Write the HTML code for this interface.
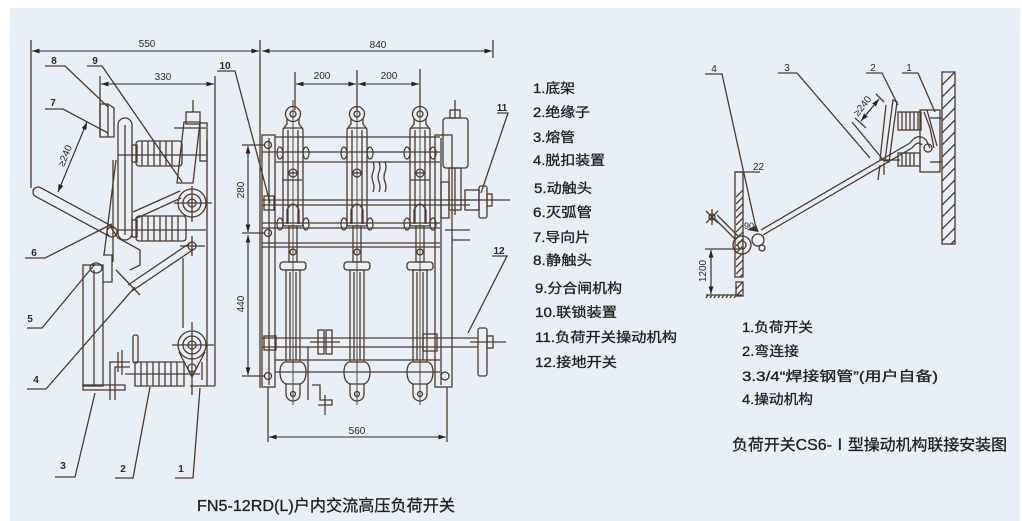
<!DOCTYPE html>
<html><head><meta charset="utf-8">
<style>html,body{margin:0;padding:0;background:#fff}svg{display:block}</style>
</head><body>
<svg width="1022" height="521" viewBox="0 0 1022 521" xmlns="http://www.w3.org/2000/svg">
<defs>
<marker id="a" viewBox="0 0 10 10" refX="10" refY="5" markerWidth="7" markerHeight="7" orient="auto-start-reverse"><path d="M0,1.8 L10,5 L0,8.2z" fill="#222" stroke="none"/></marker>
<clipPath id="cw"><rect x="942" y="72" width="13" height="172"/></clipPath>
<clipPath id="cp"><rect x="736" y="190" width="7" height="87"/></clipPath>
<clipPath id="cp2"><rect x="736" y="282" width="7" height="14"/></clipPath>
<g id="pole" fill="none" stroke="#4e3a2c" stroke-width="1.3">
  <line x1="0" y1="100" x2="0" y2="405" stroke-width="0.9"/>
  <circle cx="0" cy="114" r="7.5"/>
  <circle cx="0" cy="114" r="3"/>
  <path d="M-6,119 L-6,124 L-10,129 M6,119 L6,124 L10,129"/>
  <rect x="-10" y="128" width="20" height="98" rx="2"/>
  <line x1="-5" y1="130" x2="-5" y2="224"/>
  <line x1="5" y1="130" x2="5" y2="224"/>
  <ellipse cx="-13" cy="153" rx="3" ry="6"/>
  <ellipse cx="13" cy="153" rx="3" ry="6"/>
  <circle cx="0" cy="173" r="4"/>
  <line x1="-5" y1="173" x2="5" y2="173"/>
  <path d="M-6,224 L-6,210 Q0,198 6,210 L6,224"/>
  <ellipse cx="-13" cy="224" rx="3" ry="6"/>
  <ellipse cx="13" cy="224" rx="3" ry="6"/>
  <rect x="-4" y="226" width="8" height="36"/>
  <circle cx="0" cy="252" r="3"/>
  <rect x="-13" y="262" width="26" height="8" rx="3"/>
  <rect x="-7" y="270" width="14" height="92"/>
  <line x1="-3" y1="272" x2="-3" y2="360"/>
  <line x1="3" y1="272" x2="3" y2="360"/>
  <path d="M-8,362 Q-13,364 -13,372 Q-13,382 -7,384 L7,384 Q13,382 13,372 Q13,364 8,362"/>
  <path d="M-7,384 L-7,394 A7,7 0 0 0 7,394 L7,384"/>
  <circle cx="0" cy="394" r="2.5"/>
</g>
</defs>

<rect x="0" y="0" width="1022" height="521" fill="#fff"/>
<rect x="10" y="8" width="1010" height="513" fill="#e8eff6"/>

<!-- ============ LEFT SIDE VIEW ============ -->
<g fill="none" stroke="#4e3a2c" stroke-width="1.3">
  <line x1="31" y1="40" x2="31" y2="188"/>
  <line x1="260" y1="40" x2="260" y2="388"/>
  <line x1="493" y1="40" x2="493" y2="58"/>
  <line x1="100" y1="76" x2="100" y2="137"/>
  <line x1="215" y1="76" x2="215" y2="386"/>
  <line x1="295" y1="72" x2="295" y2="110"/>
  <line x1="357" y1="70" x2="357" y2="110"/>
  <line x1="420" y1="69" x2="420" y2="110"/>
  <g stroke="#2a2a2a" stroke-width="1.1">
    <line x1="32" y1="51" x2="259" y2="51" marker-start="url(#a)" marker-end="url(#a)"/>
    <line x1="262" y1="51" x2="492" y2="51" marker-start="url(#a)" marker-end="url(#a)"/>
    <line x1="101" y1="84" x2="214" y2="84" marker-start="url(#a)" marker-end="url(#a)"/>
    <line x1="296" y1="84" x2="356" y2="84" marker-start="url(#a)" marker-end="url(#a)"/>
    <line x1="358" y1="84" x2="419" y2="84" marker-start="url(#a)" marker-end="url(#a)"/>
    <line x1="248" y1="146" x2="248" y2="232" marker-start="url(#a)" marker-end="url(#a)"/>
    <line x1="248" y1="235" x2="248" y2="375" marker-start="url(#a)" marker-end="url(#a)"/>
    <line x1="269" y1="437" x2="446" y2="437" marker-start="url(#a)" marker-end="url(#a)"/>
    <line x1="87" y1="122" x2="58" y2="192" marker-start="url(#a)" marker-end="url(#a)"/>
  </g>
  <path d="M45,66 L65,66 L108,107"/>
  <path d="M87,66 L102,66 L182,182"/>
  <path d="M217,71 L235,71 L270,203"/>
  <path d="M45,109 L63,109 L108,133"/>
  <path d="M25,258 L45,258 L112,224"/>
  <path d="M27,328 L42,328 L95,264"/>
  <path d="M27,389 L46,389 L135,287"/>
  <path d="M55,477 L75,477 L95,393"/>
  <path d="M115,478 L133,478 L150,387"/>
  <path d="M175,478 L193,478 L200,388"/>
  <path d="M497,113 L508,113 L481,193"/>
  <path d="M492,256 L507,256 L468,333"/>

  <path d="M100,104 L100,137 L114,137 L114,108 L108,104 Z"/>
  <line x1="108" y1="104" x2="108" y2="137"/>
  <rect x="118" y="118" width="14" height="122" rx="7"/>
  <line x1="125" y1="125" x2="125" y2="235"/>
  <line x1="113" y1="160" x2="113" y2="262"/>
  <line x1="116" y1="160" x2="104" y2="255"/>
  <rect x="136" y="141" width="46" height="25" rx="3"/>
  <path d="M142,141 V166 M148,141 V166 M154,141 V166 M160,141 V166 M166,141 V166 M172,141 V166"/>
  <rect x="132" y="145" width="5" height="17"/>
  <line x1="118" y1="155" x2="206" y2="155"/>
  <rect x="136" y="216" width="50" height="25" rx="3"/>
  <path d="M142,216 V241 M148,216 V241 M154,216 V241 M160,216 V241 M166,216 V241 M172,216 V241 M178,216 V241"/>
  <rect x="132" y="220" width="5" height="17"/>
  <line x1="118" y1="230" x2="206" y2="230"/>
  <path d="M184,122 L200,122 L193,183 L177,183 Z"/>
  <rect x="186" y="112" width="14" height="12"/>
  <line x1="193" y1="100" x2="193" y2="112"/>
  <rect x="200" y="123" width="7" height="38"/>
  <line x1="174" y1="128" x2="206" y2="128"/>
  <circle cx="192" cy="203" r="14"/>
  <circle cx="192" cy="203" r="9"/>
  <circle cx="192" cy="203" r="4"/>
  <line x1="174" y1="203" x2="212" y2="203"/>
  <line x1="192" y1="186" x2="192" y2="222"/>
  <line x1="133" y1="212" x2="180" y2="191"/>
  <line x1="135" y1="219" x2="181" y2="198"/>
  <circle cx="192" cy="246" r="4"/>
  <line x1="180" y1="246" x2="205" y2="246"/>
  <line x1="192" y1="236" x2="192" y2="256"/>
  <line x1="128" y1="285" x2="190" y2="243"/>
  <line x1="132" y1="291" x2="194" y2="249"/>
  <line x1="116" y1="270" x2="140" y2="295"/>
  <path d="M114.4,227.6 L40.4,187.6 A5,5 0 0 0 35.6,196.4 L109.6,236.4"/>
  <circle cx="112" cy="232" r="5"/>
  <path d="M110,226 L118,238 L140,250 L140,265 L130,270"/>
  <rect x="83" y="265" width="20" height="121"/>
  <line x1="94" y1="270" x2="94" y2="386"/>
  <rect x="83" y="385" width="42" height="5"/>
  <ellipse cx="96" cy="268" rx="6" ry="5"/>
  <path d="M103,255 L112,255 L112,282 L103,282"/>
  <path d="M110,400 L110,362 L130,362"/>
  <path d="M115,400 L115,367 L130,367"/>
  <line x1="122" y1="350" x2="122" y2="375"/>
  <line x1="118" y1="352" x2="118" y2="372"/>
  <rect x="133" y="335" width="5" height="28" rx="2"/>
  <path d="M135,362 H184 V386 H135 Z"/>
  <path d="M141,362 V386 M147,362 V386 M153,362 V386 M159,362 V386 M165,362 V386 M171,362 V386 M177,362 V386"/>
  <line x1="125" y1="374" x2="200" y2="374"/>
  <circle cx="192" cy="345" r="14"/>
  <circle cx="192" cy="345" r="9"/>
  <circle cx="192" cy="345" r="4"/>
  <path d="M179,352 L192,377 L205,352"/>
  <circle cx="192" cy="368" r="4"/>
  <line x1="172" y1="345" x2="214" y2="345"/>
  <line x1="192" y1="322" x2="192" y2="395"/>
  <line x1="183" y1="258" x2="183" y2="328"/>
  <line x1="207" y1="140" x2="207" y2="386"/>
  <line x1="190" y1="386" x2="215" y2="386"/>
  <line x1="202" y1="362" x2="202" y2="380"/>
</g>

<!-- ============ FRONT VIEW ============ -->
<g fill="none" stroke="#4e3a2c" stroke-width="1.3">
  <rect x="262" y="135" width="13" height="252"/>
  <line x1="269" y1="138" x2="269" y2="385"/>
  <rect x="435" y="135" width="17" height="252"/>
  <line x1="441" y1="138" x2="441" y2="385"/>
  <line x1="242" y1="145" x2="265" y2="145"/>
  <line x1="242" y1="233" x2="265" y2="233"/>
  <line x1="242" y1="376" x2="265" y2="376"/>
  <line x1="268" y1="387" x2="268" y2="442"/>
  <line x1="447" y1="387" x2="447" y2="442"/>
  <circle cx="268" cy="145" r="3.5"/>
  <circle cx="268" cy="233" r="3.5"/>
  <circle cx="268" cy="376" r="3.5"/>
  <circle cx="445" cy="376" r="4"/>
  <line x1="275" y1="137" x2="440" y2="137"/>
  <line x1="262" y1="152" x2="440" y2="152"/>
  <line x1="275" y1="162" x2="440" y2="162"/>
  <line x1="262" y1="200" x2="470" y2="200"/>
  <line x1="262" y1="205" x2="470" y2="205"/>
  <line x1="262" y1="223" x2="440" y2="223"/>
  <line x1="262" y1="228" x2="440" y2="228"/>
  <line x1="262" y1="243" x2="440" y2="243"/>
  <line x1="262" y1="247" x2="440" y2="247"/>
  <line x1="262" y1="338" x2="478" y2="338"/>
  <line x1="262" y1="347" x2="478" y2="347"/>
  <line x1="275" y1="360" x2="440" y2="360"/>
  <line x1="275" y1="372" x2="440" y2="372"/>
  <rect x="264" y="196" width="10" height="14"/>
  <rect x="264" y="336" width="12" height="14"/>
  <path d="M373,162 q2,5 0,10 q-2,5 0,10 q2,5 0,10 M379,162 q2,5 0,10 q-2,5 0,10 q2,5 0,10 M385,162 q2,5 0,10 q-2,5 0,10 q2,5 0,10"/>
  <rect x="318" y="330" width="6" height="24"/>
  <rect x="326" y="330" width="6" height="24"/>
  <line x1="310" y1="342" x2="340" y2="342"/>
  <path d="M312,385 L320,385 L320,400 L332,400 L332,405 L318,405"/>
  <line x1="325" y1="395" x2="325" y2="415"/>
  <line x1="308" y1="347" x2="308" y2="400"/>
  <rect x="443" y="118" width="25" height="50" rx="3"/>
  <line x1="455" y1="100" x2="455" y2="118"/>
  <rect x="450" y="110" width="10" height="8"/>
  <rect x="449" y="168" width="12" height="42"/>
  <line x1="455" y1="168" x2="455" y2="215"/>
  <rect x="441" y="182" width="8" height="36"/>
  <rect x="465" y="190" width="14" height="20"/>
  <rect x="479" y="186" width="8" height="32" rx="2"/>
  <rect x="487" y="194" width="5" height="12"/>
  <line x1="455" y1="200" x2="510" y2="200"/>
  <line x1="445" y1="230" x2="470" y2="230"/>
  <line x1="452" y1="240" x2="470" y2="240"/>
  <rect x="478" y="328" width="9" height="48" rx="2"/>
  <rect x="487" y="336" width="6" height="12"/>
  <line x1="470" y1="342" x2="506" y2="342"/>
  <rect x="423" y="334" width="14" height="17"/>
  <line x1="282" y1="180" x2="302" y2="180"/>
  <line x1="410" y1="180" x2="430" y2="180"/>
</g>
<use href="#pole" x="293"/>
<use href="#pole" x="357"/>
<use href="#pole" x="420"/>

<!-- ============ RIGHT DIAGRAM ============ -->
<g fill="none" stroke="#4e3a2c" stroke-width="1.3">
  <rect x="942" y="72" width="13" height="172"/>
  <g clip-path="url(#cw)">
    <path d="M942,85 L955,72 M942,97 L955,84 M942,109 L955,96 M942,121 L955,108 M942,133 L955,120 M942,145 L955,132 M942,157 L955,144 M942,169 L955,156 M942,181 L955,168 M942,193 L955,180 M942,205 L955,192 M942,217 L955,204 M942,229 L955,216 M942,241 L955,228 M942,253 L955,240"/>
  </g>
  <rect x="920" y="110" width="20" height="62"/>
  <line x1="930" y1="118" x2="942" y2="118"/>
  <line x1="930" y1="162" x2="942" y2="162"/>
  <rect x="898" y="112" width="23" height="18"/>
  <path d="M902,112 V130 M906,112 V130 M910,112 V130 M914,112 V130 M918,112 V130"/>
  <rect x="898" y="153" width="22" height="13"/>
  <path d="M902,153 V166 M906,153 V166 M910,153 V166 M914,153 V166"/>
  <path d="M893,100 L897,102 L889,162 L885,160 Z"/>
  <path d="M924,112 L930,128 L934,148"/>
  <path d="M927,110 L932,128 L937,146"/>
  <circle cx="928" cy="148" r="4"/>
  <path d="M880,165 L878,180 M884,163 L884,175"/>
  <path d="M886,105 L880,160 L900,160"/>
  <line x1="761" y1="230" x2="910" y2="143"/>
  <line x1="763" y1="235" x2="912" y2="148"/>
  <path d="M910,143 Q918,132 926,140 L930,148"/>
  <path d="M912,148 Q918,140 922,145"/>
  <line x1="852" y1="122" x2="885" y2="162"/>
  <line x1="876" y1="94" x2="884" y2="102"/>
  <line x1="855" y1="118" x2="866" y2="128"/>
  <line x1="861" y1="121" x2="879" y2="99" stroke="#222" stroke-width="1.1" marker-start="url(#a)" marker-end="url(#a)"/>
  <rect x="735" y="172" width="8" height="105"/>
  <g clip-path="url(#cp)">
    <path d="M736,197 L743,190 M736,204 L743,197 M736,211 L743,204 M736,218 L743,211 M736,225 L743,218 M736,232 L743,225 M736,239 L743,232 M736,246 L743,239 M736,253 L743,246 M736,260 L743,253 M736,267 L743,260 M736,274 L743,267 M736,281 L743,274"/>
  </g>
  <rect x="736" y="282" width="7" height="14"/>
  <g clip-path="url(#cp2)">
    <path d="M736,289 L743,282 M736,296 L743,289 M736,303 L743,296"/>
  </g>
  <line x1="735" y1="172" x2="760" y2="172"/>
  <line x1="706" y1="295" x2="742" y2="295"/>
  <path d="M708,295 l-2,3 M712,295 l-2,3 M716,295 l-2,3 M720,295 l-2,3 M724,295 l-2,3 M728,295 l-2,3 M732,295 l-2,3 M736,295 l-2,3"/>
  <line x1="705" y1="249" x2="740" y2="249"/>
  <line x1="711" y1="250" x2="711" y2="294" stroke="#222" stroke-width="1.1" marker-start="url(#a)" marker-end="url(#a)"/>
  <circle cx="742" cy="245" r="9"/>
  <circle cx="742" cy="245" r="4"/>
  <circle cx="758" cy="240" r="6"/>
  <circle cx="762" cy="248" r="3"/>
  <line x1="714" y1="218" x2="736" y2="240"/>
  <line x1="717" y1="215" x2="739" y2="237"/>
  <circle cx="712" cy="217" r="3"/>
  <path d="M706,211 L718,223 M706,223 L718,211 M712,209 L712,225"/>
  <path d="M748,230 L756,226 L758,232" fill="#333"/>
  <path d="M705,74 L722,74 L756,228"/>
  <path d="M778,73 L797,73 L870,158"/>
  <path d="M866,73 L882,73 L898,105"/>
  <path d="M902,73 L918,73 L935,112"/>
</g>

<!-- ============ TEXT ============ -->
<g font-family="Liberation Sans, sans-serif" font-size="10" fill="#2a2a2a">
  <text x="147" y="47" text-anchor="middle">550</text>
  <text x="378" y="48" text-anchor="middle">840</text>
  <text x="163" y="80" text-anchor="middle">330</text>
  <text x="322" y="79" text-anchor="middle">200</text>
  <text x="389" y="79" text-anchor="middle">200</text>
  <text x="357" y="434" text-anchor="middle">560</text>
  <text transform="translate(244,190) rotate(-90)" text-anchor="middle">280</text>
  <text transform="translate(244,304) rotate(-90)" text-anchor="middle">440</text>
  <text transform="translate(68,157) rotate(-68)" text-anchor="middle">≥240</text>
  <text x="54" y="64" text-anchor="middle" font-weight="bold">8</text>
  <text x="95" y="64" text-anchor="middle" font-weight="bold">9</text>
  <text x="225" y="69" text-anchor="middle" font-weight="bold">10</text>
  <text x="53" y="106" text-anchor="middle" font-weight="bold">7</text>
  <text x="34" y="256" text-anchor="middle" font-weight="bold">6</text>
  <text x="30" y="322" text-anchor="middle" font-weight="bold">5</text>
  <text x="36" y="383" text-anchor="middle" font-weight="bold">4</text>
  <text x="63" y="469" text-anchor="middle" font-weight="bold">3</text>
  <text x="123" y="472" text-anchor="middle" font-weight="bold">2</text>
  <text x="181" y="472" text-anchor="middle" font-weight="bold">1</text>
  <text x="502" y="111" text-anchor="middle" font-weight="bold">11</text>
  <text x="499" y="254" text-anchor="middle" font-weight="bold">12</text>
  <text x="714" y="72" text-anchor="middle">4</text>
  <text x="787" y="71" text-anchor="middle">3</text>
  <text x="873" y="71" text-anchor="middle">2</text>
  <text x="909" y="71" text-anchor="middle">1</text>
  <text x="753" y="170">22</text>
  <text x="744" y="229" font-size="9">90</text>
  <text transform="translate(706,271) rotate(-90)" text-anchor="middle">1200</text>
  <text transform="translate(865,108) rotate(-52)" text-anchor="middle">≥240</text>
</g>

<g font-family="Liberation Sans, Noto Sans CJK SC, sans-serif" font-size="13.5" fill="#1f1f1f" stroke="#1f1f1f" stroke-width="0.3">
  <text x="533" y="93" textLength="42" lengthAdjust="spacingAndGlyphs">1.底架</text>
  <text x="533" y="117" textLength="57" lengthAdjust="spacingAndGlyphs">2.绝缘子</text>
  <text x="533" y="142" textLength="42" lengthAdjust="spacingAndGlyphs">3.熔管</text>
  <text x="533" y="165" textLength="72" lengthAdjust="spacingAndGlyphs">4.脱扣装置</text>
  <text x="534" y="193" textLength="58" lengthAdjust="spacingAndGlyphs">5.动触头</text>
  <text x="533" y="217" textLength="59" lengthAdjust="spacingAndGlyphs">6.灭弧管</text>
  <text x="533" y="242" textLength="57" lengthAdjust="spacingAndGlyphs">7.导向片</text>
  <text x="533" y="265" textLength="59" lengthAdjust="spacingAndGlyphs">8.静触头</text>
  <text x="535" y="293" textLength="87" lengthAdjust="spacingAndGlyphs">9.分合闸机构</text>
  <text x="535" y="317" textLength="82" lengthAdjust="spacingAndGlyphs">10.联锁装置</text>
  <text x="535" y="342" textLength="142" lengthAdjust="spacingAndGlyphs">11.负荷开关操动机构</text>
  <text x="535" y="367" textLength="82" lengthAdjust="spacingAndGlyphs">12.接地开关</text>

  <text x="742" y="332" textLength="71" lengthAdjust="spacingAndGlyphs">1.负荷开关</text>
  <text x="742" y="356" textLength="57" lengthAdjust="spacingAndGlyphs">2.弯连接</text>
  <text x="742" y="381" textLength="196" lengthAdjust="spacingAndGlyphs">3.3/4“焊接钢管”(用户自备)</text>
  <text x="742" y="404" textLength="71" lengthAdjust="spacingAndGlyphs">4.操动机构</text>

  <text x="732" y="450" font-size="15.5" textLength="275" lengthAdjust="spacingAndGlyphs">负荷开关CS6-Ⅰ型操动机构联接安装图</text>
  <text x="197" y="511" font-size="16" textLength="258" lengthAdjust="spacingAndGlyphs">FN5-12RD(L)户内交流高压负荷开关</text>
</g>
</svg>
</body></html>
